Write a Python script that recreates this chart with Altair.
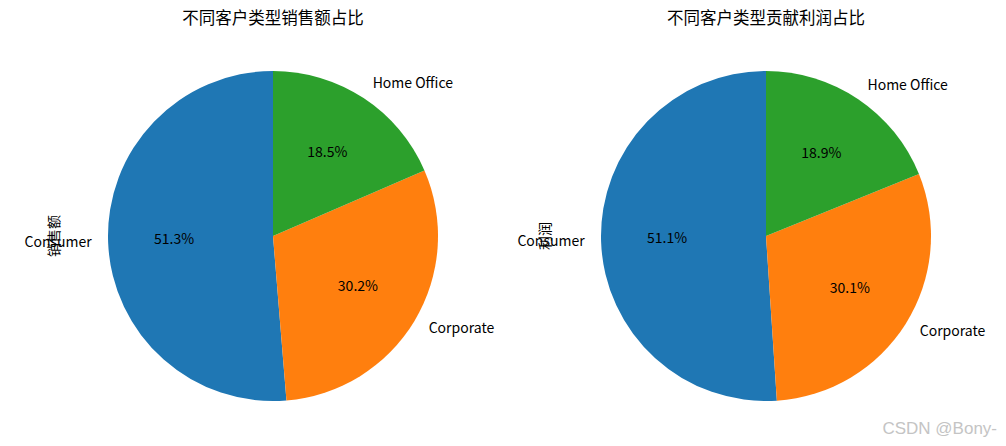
import altair as alt
import pandas as pd

categories = ["Consumer", "Corporate", "Home Office"]
sales_share = [51.3, 30.2, 18.5]
profit_share = [51.1, 30.1, 18.9]
draw_order = [2, 1, 0]          # clockwise order in Vega (mirrors matplotlib's counter-clockwise)
label_side = ["left", "right", "right"]
colors = ["#1f77b4", "#ff7f0e", "#2ca02c"]

titles = ["不同客户类型销售额占比", "不同客户类型贡献利润占比"]
ylabels = ["销售额", "利润"]
watermark = "CSDN @Bony-"

FONT = "Noto Sans CJK SC"
W, H = 495, 430
R = 165


def panel(values, title, ylabel, cx, cy, ylab_x, wm=None):
    df = pd.DataFrame({"cat": categories, "value": values,
                       "idx": draw_order, "side": label_side})
    base = alt.Chart(df).transform_calculate(
        pct="format(datum.value, '.1f') + '%'"
    ).encode(
        theta=alt.Theta("value:Q", stack=True),
        order=alt.Order("idx:Q"),
        x=alt.value(cx), y=alt.value(cy),
    )
    arc = base.mark_arc(outerRadius=R).encode(
        color=alt.Color("cat:N", scale=alt.Scale(domain=categories, range=colors),
                        legend=None)
    )
    lab_left = base.mark_text(radius=R * 1.1, align="right", baseline="middle",
                              font=FONT, fontSize=14, color="black").encode(
        text="cat:N",
        opacity=alt.condition("datum.side == 'left'", alt.value(1), alt.value(0)),
    )
    lab_right = base.mark_text(radius=R * 1.1, align="left", baseline="middle",
                               font=FONT, fontSize=14, color="black").encode(
        text="cat:N",
        opacity=alt.condition("datum.side == 'right'", alt.value(1), alt.value(0)),
    )
    pct = base.mark_text(radius=R * 0.6, align="center", baseline="middle",
                         font=FONT, fontSize=14, color="black").encode(text="pct:N")

    ttl = alt.Chart(pd.DataFrame({"t": [title]})).mark_text(
        font=FONT, fontSize=16.5, align="center", baseline="middle", color="black"
    ).encode(text="t:N", x=alt.value(cx), y=alt.value(11))
    ylab = alt.Chart(pd.DataFrame({"t": [ylabel]})).mark_text(
        font=FONT, fontSize=14, align="center", baseline="middle", angle=270,
        color="black"
    ).encode(text="t:N", x=alt.value(ylab_x), y=alt.value(cy))
    layers = [arc, lab_left, lab_right, pct, ttl, ylab]
    if wm:
        layers.append(alt.Chart(pd.DataFrame({"t": [wm]})).mark_text(
            font="Liberation Sans", fontSize=17, align="right", baseline="middle",
            color="#c4c4c4"
        ).encode(text="t:N", x=alt.value(W - 1), y=alt.value(421)))
    return alt.layer(*layers).properties(width=W, height=H)


left = panel(sales_share, titles[0], ylabels[0], 265, 228, 47)
right = panel(profit_share, titles[1], ylabels[1], 263, 228, 43, watermark)

chart = alt.hconcat(left, right, spacing=0).configure_view(stroke=None).properties(padding=0)

chart.save("out.html", embed_options={"renderer": "svg", "actions": False})
